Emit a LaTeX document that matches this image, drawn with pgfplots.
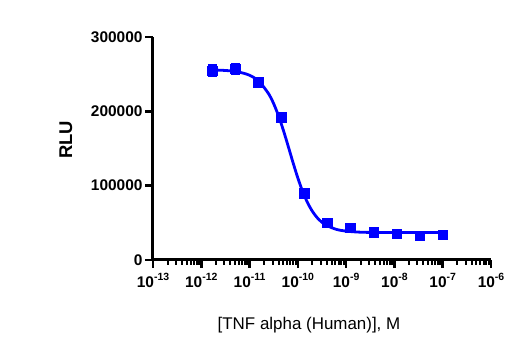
\documentclass[border=0pt]{standalone}
\usepackage{pgfplots}
\pgfplotsset{compat=1.18}
\usepackage{fontspec}
\setmainfont{Liberation Sans}
\definecolor{pblue}{RGB}{0,0,255}
\newcommand{\tl}[1]{\mbox{\bfseries 10\raisebox{0.42em}{\fontsize{10.5}{10.5}\selectfont\bfseries #1}}}
\begin{document}
\begin{tikzpicture}
\useasboundingbox (0,0) rectangle (532bp,352bp);
\begin{axis}[
  at={(153bp,92bp)}, anchor=south west,
  scale only axis, width=338bp, height=223bp,
  xmode=log, log basis x=10,
  xmin=1e-13, xmax=1e-6,
  ymin=0, ymax=300000,
  axis x line=bottom, axis y line=left,
  axis line style={line width=3bp, -},
  clip=false,
  xtick={1e-13,1e-12,1e-11,1e-10,1e-9,1e-8,1e-7,1e-6},
  xticklabels={\tl{-13},\tl{-12},\tl{-11},\tl{-10},\tl{-9},\tl{-8},\tl{-7},\tl{-6}},
  minor xtick={2e-13,3e-13,4e-13,5e-13,6e-13,7e-13,8e-13,9e-13,
    2e-12,3e-12,4e-12,5e-12,6e-12,7e-12,8e-12,9e-12,
    2e-11,3e-11,4e-11,5e-11,6e-11,7e-11,8e-11,9e-11,
    2e-10,3e-10,4e-10,5e-10,6e-10,7e-10,8e-10,9e-10,
    2e-9,3e-9,4e-9,5e-9,6e-9,7e-9,8e-9,9e-9,
    2e-8,3e-8,4e-8,5e-8,6e-8,7e-8,8e-8,9e-8,
    2e-7,3e-7,4e-7,5e-7,6e-7,7e-7,8e-7,9e-7},
  ytick={0,100000,200000,300000},
  yticklabels={\textbf{0},\textbf{100000},\textbf{200000},\textbf{300000}},
  scaled y ticks=false,
  yticklabel style={font=\fontsize{15.5}{15.5}\selectfont\bfseries, xshift=1bp},
  xticklabel style={font=\fontsize{15.5}{15.5}\selectfont, yshift=-2bp},
  tick align=outside,
  major tick length=8bp, minor tick length=5bp,
  every tick/.style={black, line width=2.6bp},
  minor tick style={line width=2bp},
  xlabel={{[}TNF alpha (Human){]}, M},
  xlabel style={font=\fontsize{17}{17}\selectfont, at={(axis description cs:0.4615,-0.3117)}, anchor=base},
  ylabel={RLU},
  ylabel style={font=\fontsize{18.5}{18.5}\selectfont\bfseries, at={(axis description cs:-0.2574,0.538)}, anchor=center, rotate=0},
]
\addplot[pblue, line width=2.8bp, smooth, no marks] coordinates {
(1.698e-12,255653) (3.162e-12,254980) (5.623e-12,253220) (1e-11,248540)
(1.585e-11,239970) (2.512e-11,223100) (3.162e-11,210180) (3.981e-11,193900)
(5.012e-11,174540) (6.310e-11,153100) (7.943e-11,131110) (1e-10,110320)
(1.259e-10,92080) (1.585e-10,77250) (1.995e-10,65600) (2.512e-10,56930)
(3.162e-10,50690) (3.981e-10,46300) (6.310e-10,41180) (1e-9,38800)
(1.778e-9,37560) (3.162e-9,37110) (1e-8,37020) (3.162e-8,37000) (1e-7,37000)
};
\addplot[pblue, only marks, mark=square*, mark size=4.8bp,
  mark options={fill=pblue, draw=pblue, line width=0.5bp},
  error bars/.cd, y dir=both, y explicit,
  error bar style={line width=2bp, pblue},
  error mark options={rotate=90, mark size=4.5bp, line width=2.2bp, pblue}]
coordinates {
(1.69e-12,254600) +- (0,7000)
(5.08e-12,257200) +- (0,6500)
(1.52e-11,239500) +- (0,1500)
(4.57e-11,192000) +- (0,1500)
(1.37e-10,89700) +- (0,1500)
(4.12e-10,50200) +- (0,1000)
(1.23e-9,43400) +- (0,1000)
(3.70e-9,37300) +- (0,1000)
(1.11e-8,35400) +- (0,1000)
(3.33e-8,32700) +- (0,1000)
(1.0e-7,34000) +- (0,1000)
};
\end{axis}
\end{tikzpicture}
\end{document}
